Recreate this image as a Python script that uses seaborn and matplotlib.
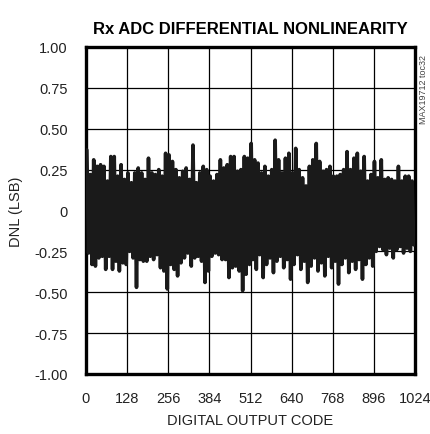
import matplotlib
matplotlib.use("Agg")
import matplotlib.pyplot as plt
import numpy as np
import pandas as pd
import seaborn as sns

# DNL envelope, 96 bins across codes 0..1023
DNL_HIGH = [
    0.37, 0.22, 0.31, 0.27, 0.28, 0.27, 0.18, 0.33, 0.33, 0.21, 0.28, 0.19,
    0.23, 0.17, 0.23, 0.26, 0.23, 0.19, 0.32, 0.23, 0.22, 0.25, 0.21, 0.35,
    0.34, 0.30, 0.25, 0.20, 0.24, 0.26, 0.19, 0.40, 0.17, 0.23, 0.27, 0.25,
    0.21, 0.18, 0.22, 0.31, 0.26, 0.28, 0.33, 0.33, 0.24, 0.25, 0.33, 0.32,
    0.41, 0.31, 0.29, 0.23, 0.27, 0.21, 0.25, 0.43, 0.31, 0.23, 0.32, 0.35,
    0.23, 0.38, 0.25, 0.20, 0.15, 0.27, 0.31, 0.41, 0.30, 0.24, 0.25, 0.27,
    0.21, 0.21, 0.22, 0.25, 0.36, 0.25, 0.32, 0.35, 0.24, 0.33, 0.18, 0.22,
    0.30, 0.20, 0.31, 0.19, 0.20, 0.19, 0.18, 0.27, 0.18, 0.21, 0.21, 0.18,
]
DNL_LOW = [
    -0.26, -0.33, -0.34, -0.29, -0.28, -0.36, -0.28, -0.36, -0.31, -0.37, -0.32, -0.33,
    -0.25, -0.29, -0.47, -0.30, -0.31, -0.31, -0.28, -0.30, -0.27, -0.35, -0.37, -0.48,
    -0.33, -0.36, -0.40, -0.32, -0.29, -0.26, -0.34, -0.29, -0.28, -0.31, -0.44, -0.37,
    -0.28, -0.26, -0.27, -0.30, -0.30, -0.41, -0.35, -0.34, -0.37, -0.49, -0.39, -0.33,
    -0.30, -0.36, -0.27, -0.41, -0.33, -0.29, -0.38, -0.31, -0.28, -0.35, -0.30, -0.42,
    -0.33, -0.27, -0.36, -0.31, -0.44, -0.34, -0.29, -0.37, -0.32, -0.40, -0.28, -0.35,
    -0.31, -0.45, -0.33, -0.29, -0.38, -0.31, -0.36, -0.30, -0.42, -0.33, -0.29, -0.34,
    -0.25, -0.22, -0.24, -0.27, -0.23, -0.29, -0.24, -0.22, -0.26, -0.23, -0.25, -0.21,
]
X_TICKS = [0, 128, 256, 384, 512, 640, 768, 896, 1024]
Y_TICKS = [1.0, 0.75, 0.5, 0.25, 0.0, -0.25, -0.5, -0.75, -1.0]
Y_TICK_LABELS = ["1.00", "0.75", "0.50", "0.25", "0", "-0.25", "-0.50", "-0.75", "-1.00"]

FONT = ["Liberation Sans Narrow", "Liberation Sans", "DejaVu Sans"]


def build_trace() -> pd.DataFrame:
    n = len(DNL_HIGH)
    width = 1023 / n
    codes, values = [], []
    for i in range(n):
        codes += [i * width + 0.25 * width, i * width + 0.75 * width]
        values += [DNL_HIGH[i], DNL_LOW[i]]
    return pd.DataFrame({"code": codes, "dnl": values})


def main() -> None:
    sns.set_theme(style="white")
    plt.rcParams["font.family"] = FONT

    trace = build_trace()

    fig = plt.figure(figsize=(4.3, 4.35), dpi=100)
    ax = fig.add_axes([86 / 430, 1 - 375 / 435, 329 / 430, 327 / 435])

    sns.lineplot(data=trace, x="code", y="dnl", sort=False, estimator=None,
                 color="#1a1a1a", linewidth=2.6, ax=ax, zorder=3)

    ax.set_xlim(0, 1024)
    ax.set_ylim(-1, 1)
    ax.set_xticks(X_TICKS)
    ax.set_yticks(Y_TICKS)
    ax.set_yticklabels(Y_TICK_LABELS)
    ax.grid(True, color="black", linewidth=0.9)
    ax.tick_params(axis="both", length=0, labelsize=10.5, labelcolor="#222222")
    ax.tick_params(axis="y", pad=13)
    ax.tick_params(axis="x", pad=12)
    for spine in ax.spines.values():
        spine.set_color("black")
        spine.set_linewidth(2.4)

    ax.set_xlabel("DIGITAL OUTPUT CODE", fontsize=10.5, color="#222222", labelpad=6)
    ax.set_ylabel("DNL (LSB)", fontsize=10.5, color="#222222", labelpad=8)
    ax.set_title("Rx ADC DIFFERENTIAL NONLINEARITY", fontsize=12, fontweight="bold",
                 color="black", pad=10)
    fig.text(423 / 430, 1 - 90 / 435, "MAX19712 toc32", rotation=90, fontsize=6.5,
             color="#444444", ha="center", va="center")

    fig.savefig("out.png", dpi=100)
    plt.close(fig)


if __name__ == "__main__":
    main()
